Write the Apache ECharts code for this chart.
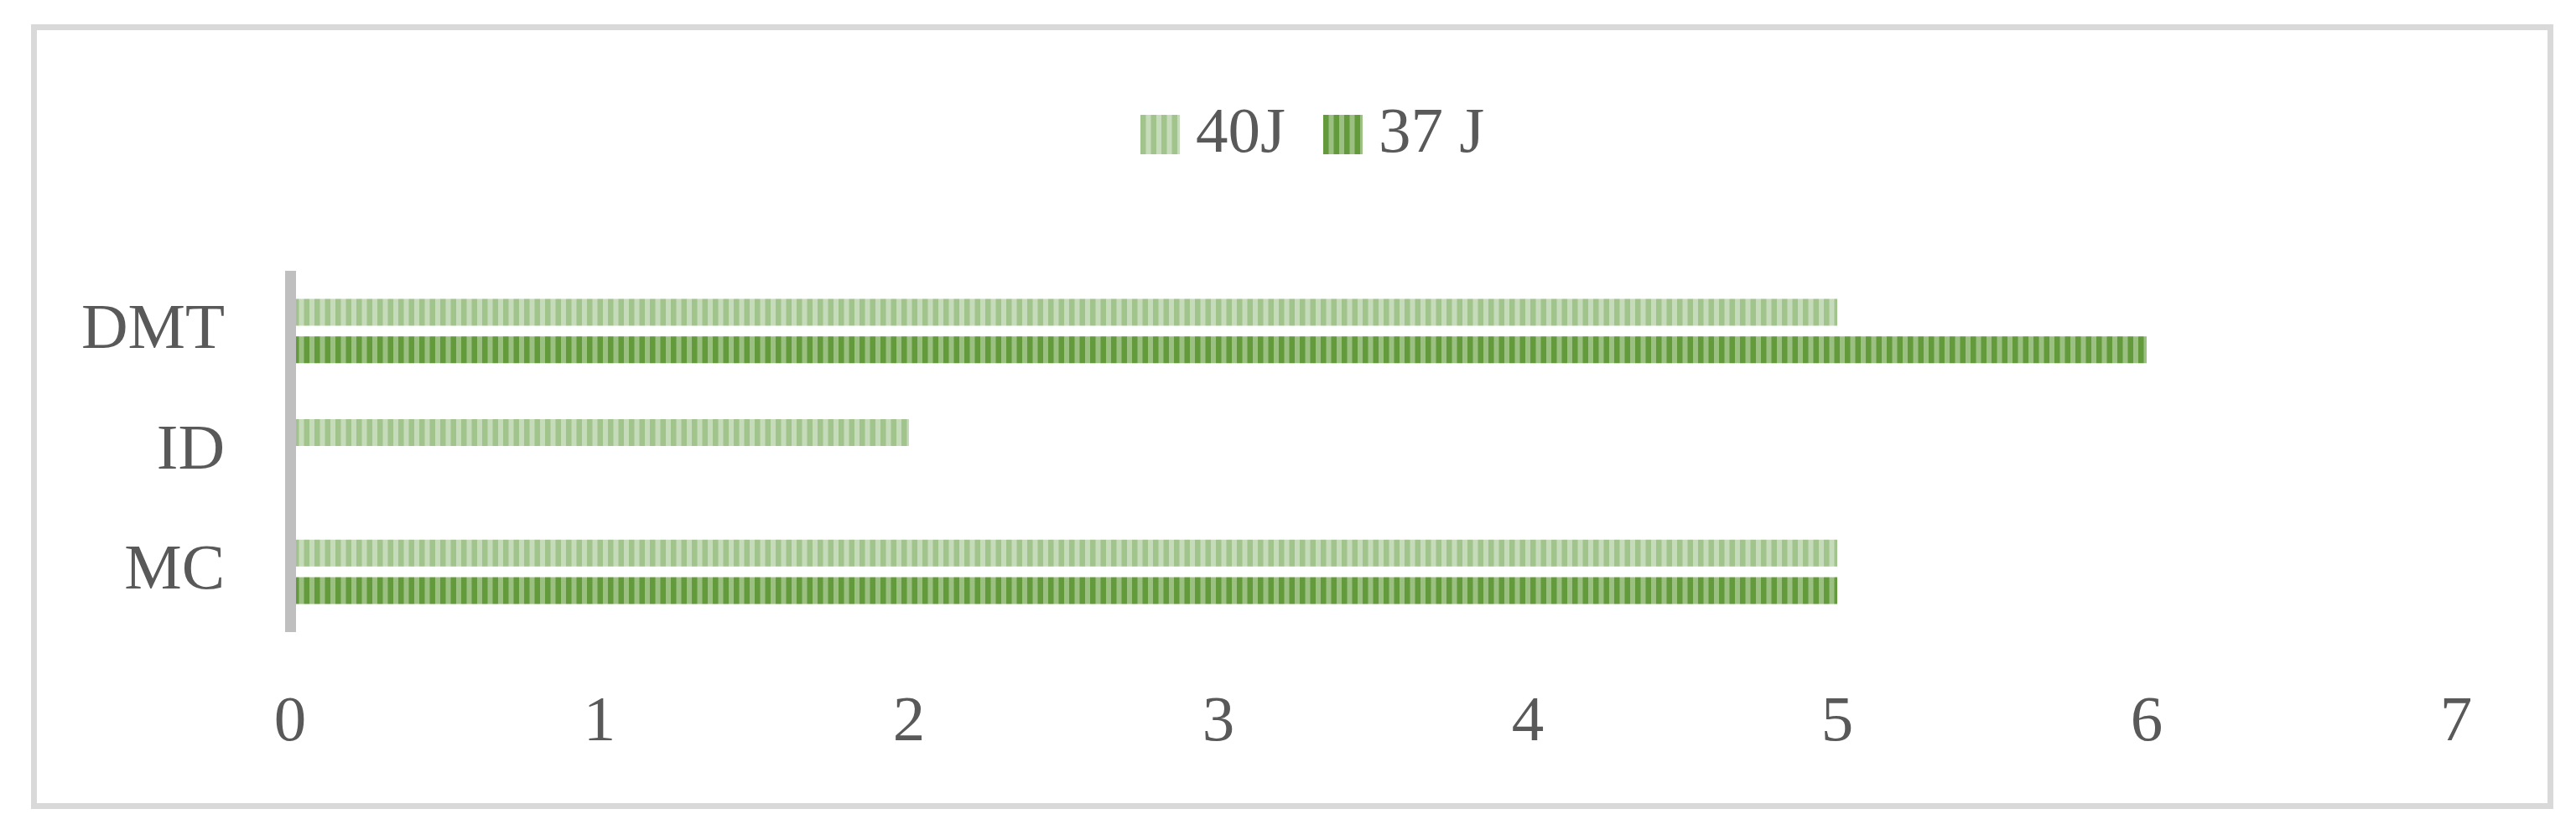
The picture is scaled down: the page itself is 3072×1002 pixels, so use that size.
<!DOCTYPE html>
<html>
<head>
<meta charset="utf-8">
<script src="https://cdn.jsdelivr.net/npm/echarts@6/dist/echarts.min.js"></script>
<style>
html,body{margin:0;padding:0;background:#fff;}
#chart{width:3072px;height:1002px;}
</style>
</head>
<body>
<div id="chart"></div>
<script>
const categories = ['MC', 'ID', 'DMT'];
const seriesNames = ['40J', '37 J'];
const values40J = [5, 2, 5];
const values37J = [5, 0, 6];
const xTicks = [0, 1, 2, 3, 4, 5, 6, 7];

function makePattern(base, stripe) {
  const c = document.createElement('canvas');
  c.width = 25; c.height = 10;
  const ctx = c.getContext('2d');
  ctx.fillStyle = base; ctx.fillRect(0, 0, 25, 10);
  ctx.fillStyle = stripe;
  ctx.fillRect(0, 0, 6.5, 10);
  ctx.fillRect(12.5, 0, 6.5, 10);
  return { image: c, repeat: 'repeat' };
}
const pat40 = makePattern('#C6DBBA', '#A1C48C');
const pat37 = makePattern('#9CC082', '#629A3C');

const chart = echarts.init(document.getElementById('chart'), null, { renderer: 'canvas' });
const FONT = 'Liberation Serif';
chart.setOption({
  backgroundColor: '#fff',
  animation: false,
  graphic: [{
    type: 'rect', z: -10,
    shape: { x: 40.5, y: 32.5, width: 3001, height: 929 },
    style: { fill: '#fff', stroke: '#D9D9D9', lineWidth: 7 }
  }],
  legend: {
    left: 1355, top: 117,
    itemWidth: 47, itemHeight: 47, itemGap: 45,
    icon: 'rect',
    data: seriesNames,
    textStyle: { fontFamily: FONT, fontSize: 77, color: '#595959', padding: [0, 0, 0, 14] }
  },
  grid: { left: 346, right: 143, top: 323, bottom: 248, containLabel: false },
  xAxis: {
    type: 'value', min: 0, max: 7, interval: 1,
    axisLine: { show: false }, axisTick: { show: false },
    splitLine: { show: false },
    axisLabel: {
      fontFamily: FONT, fontSize: 77, color: '#595959', margin: 70,
      formatter: v => xTicks.includes(v) ? String(v) : ''
    }
  },
  yAxis: {
    type: 'category', data: categories, z: 5,
    axisLine: { show: true, lineStyle: { color: '#BFBFBF', width: 13, cap: 'butt' } },
    axisTick: { show: false },
    axisLabel: { fontFamily: FONT, fontSize: 77, color: '#595959', margin: 78 }
  },
  series: [
    { name: seriesNames[0], type: 'bar', data: values40J, barWidth: 32, barGap: '40%',
      itemStyle: { color: pat40 } },
    { name: seriesNames[1], type: 'bar', data: values37J, barWidth: 32, barGap: '40%',
      itemStyle: { color: pat37 } }
  ]
});
</script>
</body>
</html>
